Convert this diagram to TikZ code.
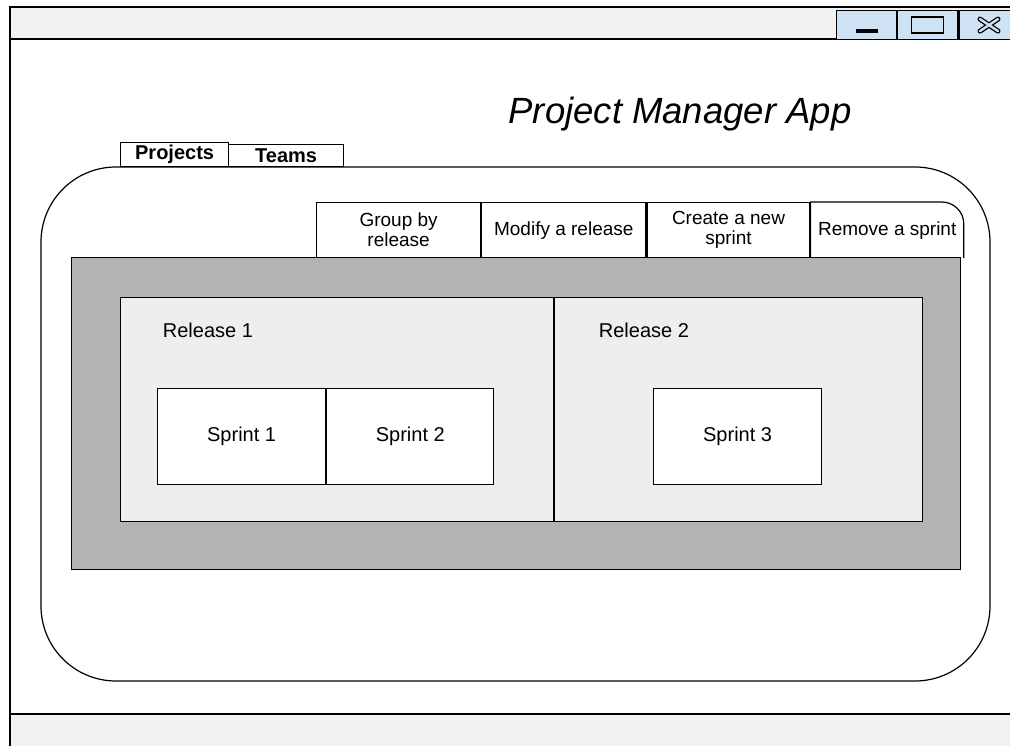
\documentclass[tikz,border=0pt]{standalone}
\usepackage{fontspec}
\setmainfont{Liberation Sans}
\usetikzlibrary{positioning}
\definecolor{barGray}{HTML}{F2F2F2}
\definecolor{panelGray}{HTML}{B3B3B3}
\definecolor{releaseGray}{HTML}{EEEEEE}
\definecolor{btnBlue}{HTML}{CFE2F3}
\tikzset{
  winbtn/.style={draw,rectangle,fill=btnBlue,minimum width=60,minimum height=29,inner sep=0},
  tabbox/.style={draw,rectangle,fill=white,minimum width=164,minimum height=55,inner sep=0,align=center,font=\fontsize{19}{20}\selectfont},
  toptab/.style={draw,rectangle,fill=white,inner sep=0,anchor=south west,font=\bfseries\fontsize{20}{22}\selectfont},
  sprintbox/.style={draw,rectangle,fill=white,minimum width=168,minimum height=96,inner sep=0,font=\fontsize{20}{24}\selectfont},
  releasebox/.style={draw,rectangle,fill=releaseGray,minimum height=224,inner sep=0}
}
\begin{document}
\begin{tikzpicture}[x=1pt,y=-1pt,line width=1.2pt]
\useasboundingbox (0,0) rectangle (1010,746);
% window frame with title bar and status bar
\fill[barGray] (10,7) rectangle (1014,39);
\fill[barGray] (10,714) rectangle (1014,750);
\draw[line width=1.6pt] (1014,7) -- (10,7) -- (10,750);
\draw[line width=1.6pt] (10,39) -- (1014,39);
\draw[line width=1.6pt] (10,714) -- (1014,714);

% window buttons
\node[winbtn,anchor=north west] (minbtn) at (836,10) {};
\node[winbtn,right=0pt of minbtn] (maxbtn) {};
\node[winbtn,right=0pt of maxbtn] (closebtn) {};
\fill ([xshift=-11pt,yshift=-8pt]minbtn.center) rectangle ([xshift=11pt,yshift=-4pt]minbtn.center);
\draw ([xshift=-16pt,yshift=-8pt]maxbtn.center) rectangle ([xshift=16pt,yshift=8pt]maxbtn.center);
\draw[line width=5pt,line cap=round] ([xshift=-9pt,yshift=6pt]closebtn.center) -- ([xshift=9pt,yshift=-6pt]closebtn.center)
  ([xshift=-9pt,yshift=-6pt]closebtn.center) -- ([xshift=9pt,yshift=6pt]closebtn.center);
\draw[line width=2.4pt,line cap=round,btnBlue] ([xshift=-9pt,yshift=6pt]closebtn.center) -- ([xshift=9pt,yshift=-6pt]closebtn.center)
  ([xshift=-9pt,yshift=-6pt]closebtn.center) -- ([xshift=9pt,yshift=6pt]closebtn.center);

\node[font=\itshape\fontsize{36.5}{40}\selectfont] (title) at (680,114) {Project Manager App};

% main container and its tabs
\draw[rounded corners=75] (41,167) rectangle (990,681);
\node[toptab,minimum width=108,minimum height=24] (projects) at (120,167) {Projects};
\node[toptab,minimum width=115,minimum height=22] (teams) at (228,167) {Teams};

\node[tabbox,anchor=north west] (group) at (316,202) {Group by\\release};
\node[tabbox,right=0pt of group] (modify) {Modify a release};
\node[tabbox,right=0pt of modify,minimum width=163] (create) {Create a new\\sprint};
\node[tabbox,right=0pt of create,minimum width=152,draw=none] (remove) {Remove a sprint};
\draw (remove.south west) |- (remove.north) [rounded corners=22] -| (remove.south east);

% releases and sprints
\node[draw,rectangle,fill=panelGray,minimum width=889,minimum height=312,inner sep=0,anchor=north west] (panel) at (71,257) {};
\node[releasebox,minimum width=433,anchor=north west] (release1) at (120,297) {};
\node[releasebox,minimum width=368,anchor=north west] (release2) at (release1.north east) {};
\node[anchor=west,font=\fontsize{20}{24}\selectfont] (rel1label) at (159,330) {Release 1};
\node[anchor=west,font=\fontsize{20}{24}\selectfont] (rel2label) at (595,330) {Release 2};

\node[sprintbox,anchor=north west] (sprint1) at (157,388) {Sprint 1};
\node[sprintbox,right=0pt of sprint1,minimum width=167] (sprint2) {Sprint 2};
\node[sprintbox,anchor=north west] (sprint3) at (653,388) {Sprint 3};
\end{tikzpicture}
\end{document}
